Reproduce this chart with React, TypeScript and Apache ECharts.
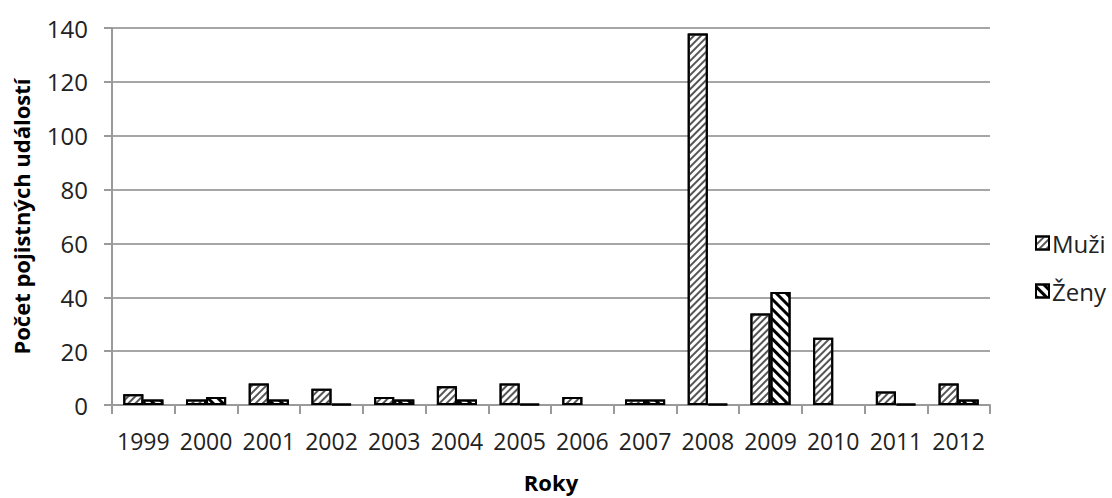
import React, { useEffect, useRef } from "react";
import * as echarts from "echarts";

const years = ["1999", "2000", "2001", "2002", "2003", "2004", "2005", "2006", "2007", "2008", "2009", "2010", "2011", "2012"];
// null = no bar drawn, 0 = flat bar drawn at the baseline
const muzi: (number | null)[] = [4, 2, 8, 6, 3, 7, 8, 3, 2, 138, 34, 25, 5, 8];
const zeny: (number | null)[] = [2, 3, 2, 0, 2, 2, 0, null, 2, 0, 42, null, 0, 2];
const yTicks = { min: 0, max: 140, interval: 20 };

const FONT = "'Open Sans', 'Noto Sans', sans-serif";

export default function App() {
  const ref = useRef<HTMLDivElement>(null);

  useEffect(() => {
    if (!ref.current) return;
    const chart = echarts.init(ref.current, null, { renderer: "svg" });
    const barStyle = {
      color: "#ffffff",
      borderColor: "#000000",
      borderWidth: 2,
    };
    chart.setOption({
      animation: false,
      backgroundColor: "#ffffff",
      textStyle: { fontFamily: FONT },
      grid: { left: 112, right: 122, top: 28, bottom: 92, containLabel: false },
      legend: {
        orient: "vertical",
        left: 1030,
        top: 226,
        itemWidth: 13,
        itemHeight: 13,
        itemGap: 24,
        icon: "rect",
        textStyle: { fontFamily: FONT, fontSize: 24, color: "#222", padding: [0, 0, 0, -2] },
        data: ["Muži", "Ženy"],
      },
      xAxis: {
        type: "category",
        data: years,
        name: "Roky",
        nameLocation: "middle",
        nameGap: 66,
        nameTextStyle: { fontFamily: FONT, fontSize: 22, fontWeight: "bold", color: "#000" },
        axisLine: { lineStyle: { color: "#9a9a9a", width: 2 } },
        axisTick: { show: true, length: 9, lineStyle: { color: "#9a9a9a", width: 2 } },
        axisLabel: {
          fontFamily: FONT,
          fontSize: 23,
          color: "#222",
          margin: 24,
          interval: 0,
          hideOverlap: false,
        },
      },
      yAxis: {
        type: "value",
        min: yTicks.min,
        max: yTicks.max,
        interval: yTicks.interval,
        name: "Počet pojistných událostí",
        nameLocation: "middle",
        nameRotate: 90,
        nameGap: 80,
        nameTextStyle: { fontFamily: FONT, fontSize: 22, fontWeight: "bold", color: "#000" },
        axisLine: { show: true, lineStyle: { color: "#9a9a9a", width: 2 } },
        axisTick: { show: true, length: 8, lineStyle: { color: "#9a9a9a", width: 2 } },
        splitLine: { show: true, lineStyle: { color: "#a6a6a6", width: 2 } },
        axisLabel: { fontFamily: FONT, fontSize: 24, color: "#222", margin: 24 },
      },
      series: [
        {
          name: "Muži",
          type: "bar",
          data: muzi,
          barGap: "0%",
          barCategoryGap: "36%",
          barMinHeight: 1,
          itemStyle: {
            ...barStyle,
            decal: {
              symbol: "rect",
              symbolSize: 1,
              dashArrayX: [1, 0],
              dashArrayY: [1.5, 2.5],
              rotation: -Math.PI / 4,
              color: "#555555",
              backgroundColor: "#ffffff",
            },
          },
        },
        {
          name: "Ženy",
          type: "bar",
          data: zeny,
          barGap: "0%",
          barCategoryGap: "36%",
          barMinHeight: 1,
          itemStyle: {
            ...barStyle,
            decal: {
              symbol: "rect",
              symbolSize: 1,
              dashArrayX: [1, 0],
              dashArrayY: [3, 4],
              rotation: Math.PI / 4,
              color: "#000000",
              backgroundColor: "#ffffff",
            },
          },
        },
      ],
    });
    return () => chart.dispose();
  }, []);

  return (
    <div
      ref={ref}
      style={{ position: "fixed", left: 0, top: 0, width: 1112, height: 498 }}
    />
  );
}
